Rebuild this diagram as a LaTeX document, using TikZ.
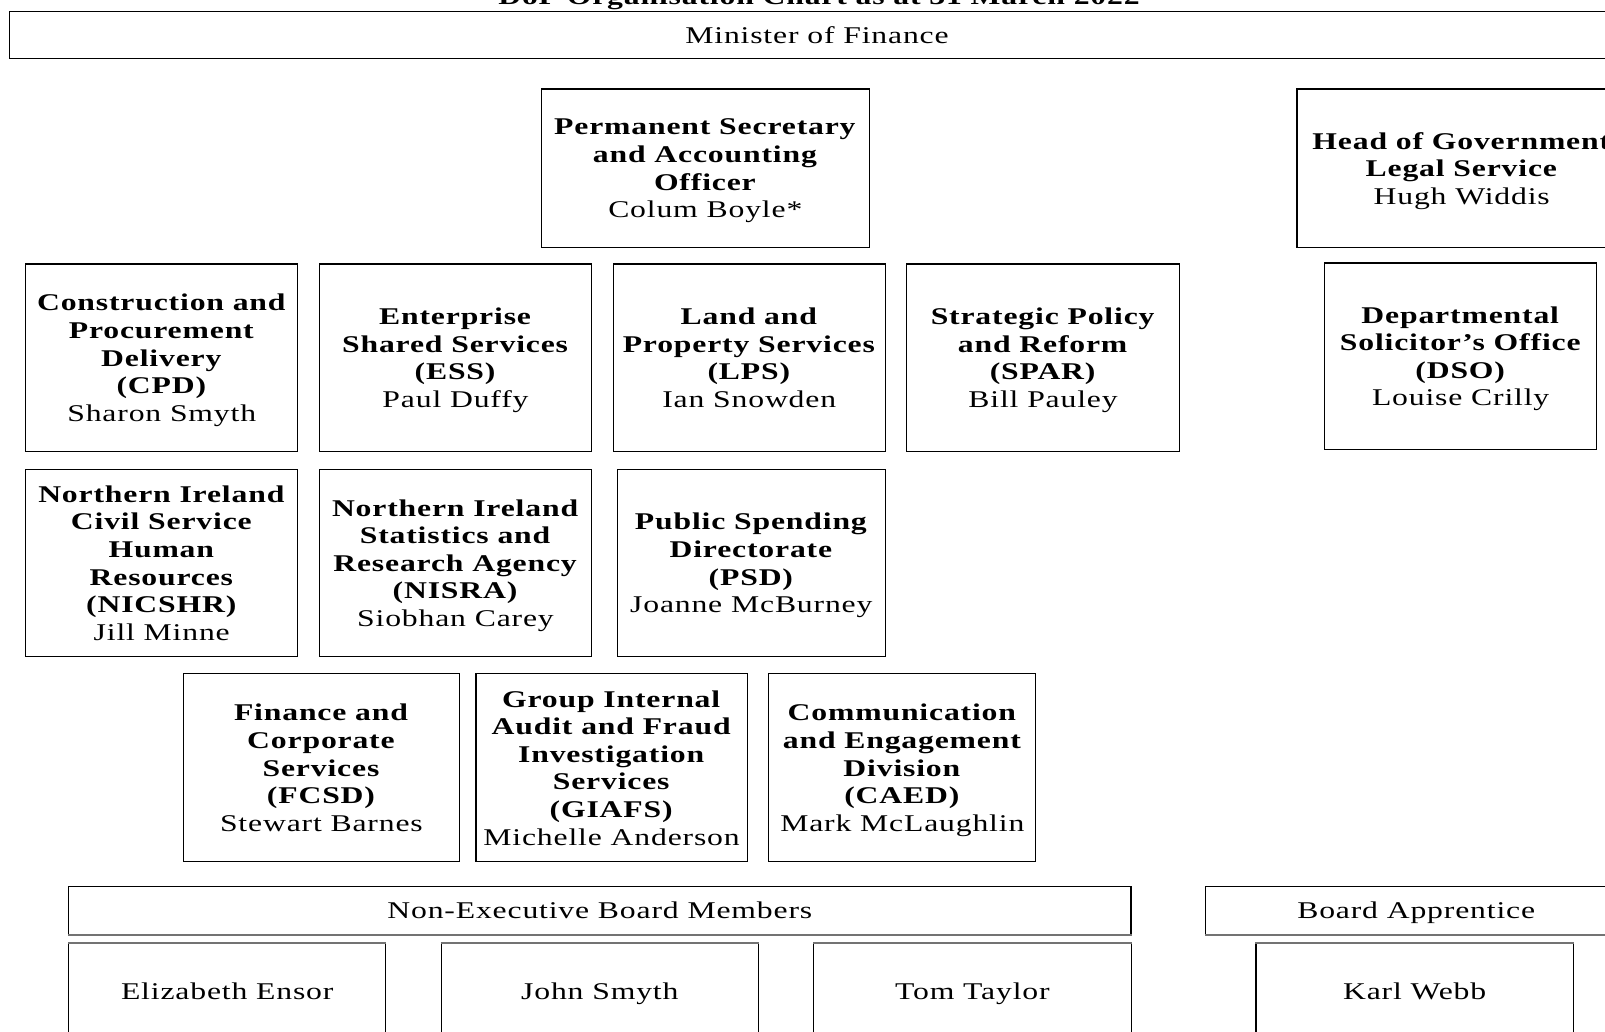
\documentclass[tikz,border=0pt]{standalone}
\usepackage{fontspec}
\setmainfont{Liberation Serif}[FakeStretch=1.32, LetterSpace=3.5]
\begin{document}
\begin{tikzpicture}[x=1pt,y=-1pt,
  box/.style={draw=black, line width=1.1pt, rectangle, inner sep=0pt, align=center,
    font=\fontsize{24}{27.6}\selectfont, text depth=0pt,
    execute at begin node={\rule{0pt}{17pt}}},
  txt/.style={inner sep=0pt, font=\fontsize{24}{27.6}\selectfont},
  edge/.style={draw=black!55, line width=1.6pt}]
\useasboundingbox (0,0) rectangle (1605,1032);
\clip (0,0) rectangle (1605,1032);
\fill[white] (0,0) rectangle (1605,1032);

\node[txt, anchor=base, font=\fontsize{24}{27.6}\selectfont\bfseries] (title) at (819,5) {DoF Organisation Chart as at 31 March 2022};

\node[box, minimum width=1615.8pt, minimum height=47pt] (min) at (817,34.8) {Minister of Finance};

\node[box, minimum width=327.5pt, minimum height=158.7pt] (perm) at (705.3,168.4)
  {\textbf{Permanent Secretary}\\\textbf{and Accounting}\\\textbf{Officer}\\Colum Boyle*};
\node[box, minimum width=329.4pt, minimum height=158.7pt] (hog) at (1461.7,168.4)
  {\textbf{Head of Government}\\\textbf{Legal Service}\\Hugh Widdis};

\node[box, minimum width=272.3pt, minimum height=187.4pt] (cpd) at (161.75,357.7)
  {\textbf{Construction and}\\\textbf{Procurement}\\\textbf{Delivery}\\\textbf{(CPD)}\\Sharon Smyth};
\node[box, minimum width=272.3pt, minimum height=187.4pt] (ess) at (455.5,357.7)
  {\textbf{Enterprise}\\\textbf{Shared Services}\\\textbf{(ESS)}\\Paul Duffy};
\node[box, minimum width=272.3pt, minimum height=187.4pt] (lps) at (749.25,357.7)
  {\textbf{Land and}\\\textbf{Property Services}\\\textbf{(LPS)}\\Ian Snowden};
\node[box, minimum width=272.3pt, minimum height=187.4pt] (spar) at (1043.05,357.7)
  {\textbf{Strategic Policy}\\\textbf{and Reform}\\\textbf{(SPAR)}\\Bill Pauley};
\node[box, minimum width=272.3pt, minimum height=186.4pt] (dso) at (1460.65,356.2)
  {\textbf{Departmental}\\\textbf{Solicitor’s Office}\\\textbf{(DSO)}\\Louise Crilly};

\node[box, minimum width=272.3pt, minimum height=186.3pt] (nicshr) at (161.75,562.95)
  {\textbf{Northern Ireland}\\\textbf{Civil Service}\\\textbf{Human}\\\textbf{Resources}\\\textbf{(NICSHR)}\\Jill Minne};
\node[box, minimum width=272.3pt, minimum height=186.3pt] (nisra) at (455.5,562.95)
  {\textbf{Northern Ireland}\\\textbf{Statistics and}\\\textbf{Research Agency}\\\textbf{(NISRA)}\\Siobhan Carey};
\node[box, minimum width=268.2pt, minimum height=186.3pt] (psd) at (751.3,562.95)
  {\textbf{Public Spending}\\\textbf{Directorate}\\\textbf{(PSD)}\\Joanne McBurney};

\node[box, minimum width=276.4pt, minimum height=188.4pt] (fcsd) at (321.4,767.7)
  {\textbf{Finance and}\\\textbf{Corporate}\\\textbf{Services}\\\textbf{(FCSD)}\\Stewart Barnes};
\node[box, minimum width=271.2pt, minimum height=188.4pt] (giafs) at (611.6,767.7)
  {\textbf{Group Internal}\\\textbf{Audit and Fraud}\\\textbf{Investigation}\\\textbf{Services}\\\textbf{(GIAFS)}\\Michelle Anderson};
\node[box, minimum width=267.2pt, minimum height=188.4pt] (caed) at (902.3,767.7)
  {\textbf{Communication}\\\textbf{and Engagement}\\\textbf{Division}\\\textbf{(CAED)}\\Mark McLaughlin};

\node[box, minimum width=1062.4pt, minimum height=48.1pt] (nonexec) at (599.8,910.45) {Non-Executive Board Members};
\node[box, minimum width=420.8pt, minimum height=48.1pt] (appr) at (1416.2,910.45) {Board Apprentice};

\node[box, minimum width=317.3pt, minimum height=94.4pt] (ensor) at (227.25,991) {Elizabeth Ensor};
\node[box, minimum width=317.3pt, minimum height=94.4pt] (smyth) at (599.85,991) {John Smyth};
\node[box, minimum width=317.3pt, minimum height=94.4pt] (taylor) at (972.4,991) {Tom Taylor};
\node[box, minimum width=317.3pt, minimum height=94.4pt] (webb) at (1414.65,991) {Karl Webb};

\draw[edge] (nonexec.south west) -- (nonexec.south east);
\draw[edge] (appr.south west) -- (appr.south east);
\draw[edge] (ensor.north west) -- (ensor.north east);
\draw[edge] (smyth.north west) -- (smyth.north east);
\draw[edge] (taylor.north west) -- (taylor.north east);
\draw[edge] (webb.north west) -- (webb.north east);
\end{tikzpicture}
\end{document}
